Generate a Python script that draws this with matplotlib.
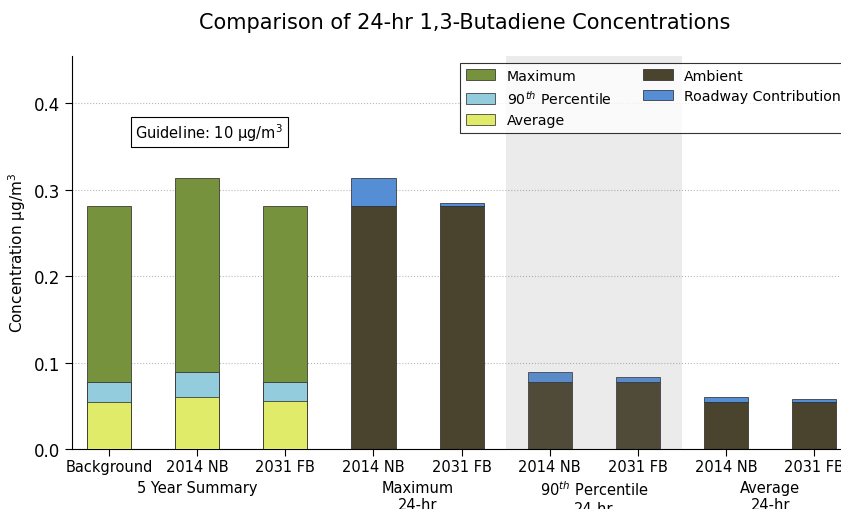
import numpy as np
import matplotlib
matplotlib.use('Agg')
from matplotlib import pyplot as plt
from matplotlib import transforms

# x 위치별 라벨
tick_labels = ['Background', '2014 NB', '2031 FB', '2014 NB', '2031 FB',
               '2014 NB', '2031 FB', '2014 NB', '2031 FB']

# 5 Year Summary (누적 아님, 겹쳐 그림)
summary_max = [0.281, 0.314, 0.281]
summary_p90 = [0.078, 0.089, 0.078]
summary_avg = [0.054, 0.060, 0.055]

# 24-hr 결과 (Ambient + Roadway Contribution)
ambient = [0.281, 0.281, 0.078, 0.078, 0.054, 0.054]
roadway = [0.033, 0.004, 0.011, 0.005, 0.006, 0.004]

groups = ['5 Year Summary', 'Maximum\n24-hr', '90$^{th}$ Percentile\n24-hr', 'Average\n24-hr']
group_pos = [1, 3.5, 5.5, 7.5]

col = {'Maximum': '#77923c', '90th': '#93cddd', 'Average': '#e0eb6a',
       'Ambient': '#4a432d', 'Roadway': '#558ed5'}

fig = plt.figure(figsize=(8.41, 5.10), dpi=100)
ax = fig.add_axes([0.0856, 0.1176, 0.935, 0.771])

w = 0.5
xs = np.arange(3)
ax.bar(xs, summary_max, w, color=col['Maximum'], edgecolor='#222222', linewidth=0.5, label='Maximum', zorder=2)
ax.bar(xs, summary_p90, w, color=col['90th'], edgecolor='#222222', linewidth=0.5, label='90$^{th}$ Percentile', zorder=3)
ax.bar(xs, summary_avg, w, color=col['Average'], edgecolor='#222222', linewidth=0.5, label='Average', zorder=4)

xr = np.arange(3, 9)
ax.bar(xr, ambient, w, color=col['Ambient'], edgecolor='#222222', linewidth=0.5, label='Ambient', zorder=2)
ax.bar(xr, roadway, w, bottom=ambient, color=col['Roadway'], edgecolor='#222222', linewidth=0.5,
       label='Roadway Contribution', zorder=2)

# 90th 구간 음영 (막대 위에 옅게)
ax.axvspan(4.5, 6.5, color='#797979', alpha=0.15, lw=0, zorder=5)

ax.set_xlim(-0.42, 8.5)
ax.set_ylim(0, 0.455)
ax.set_xticks(range(9))
ax.set_xticklabels(tick_labels, fontsize=10.5)
ax.set_yticks([0.0, 0.1, 0.2, 0.3, 0.4])
ax.tick_params(axis='y', labelsize=12, direction='out', length=5)
ax.tick_params(axis='x', direction='out', length=5, pad=2)
ax.yaxis.grid(True, linestyle=':', color='#b8b8b8', linewidth=0.8, zorder=0)
ax.set_axisbelow(True)
ax.spines['top'].set_visible(False)
ax.spines['right'].set_visible(False)

ax.set_ylabel('Concentration µg/m$^3$', fontsize=11)
ax.set_title('Comparison of 24-hr 1,3-Butadiene Concentrations', fontsize=15, pad=20)

trans = transforms.blended_transform_factory(ax.transData, ax.transAxes)
for g, p in zip(groups, group_pos):
    ax.text(p, -0.078, g, transform=trans, ha='center', va='top', fontsize=10.5)

ax.text(0.3, 0.367, 'Guideline: 10 µg/m$^3$', fontsize=10.5, va='center', ha='left',
        bbox=dict(boxstyle='square,pad=0.3', facecolor='white', edgecolor='black', linewidth=0.8))

leg = ax.legend(loc='upper left', bbox_to_anchor=(0.4934, 0.982), borderaxespad=0,
                ncol=2, fontsize=10.2, fancybox=False, edgecolor='black',
                handlelength=2.1, handleheight=0.8, columnspacing=2.2,
                labelspacing=0.45)
leg.get_frame().set_linewidth(0.8)
leg.set_zorder(10)

plt.savefig('out.png', dpi=100)
